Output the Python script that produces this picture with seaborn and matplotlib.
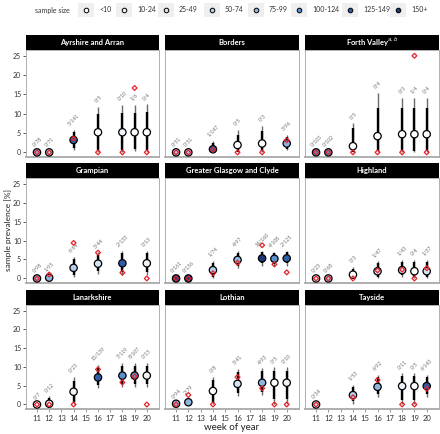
import numpy as np
import pandas as pd
import matplotlib
matplotlib.use("Agg")
import matplotlib.pyplot as plt
from matplotlib.patches import Rectangle
import seaborn as sns

# regions in facet order (3 x 3)
REGIONS = ["Ayrshire and Arran", "Borders", "Forth Valley",
           "Grampian", "Greater Glasgow and Clyde", "Highland",
           "Lanarkshire", "Lothian", "Tayside"]
STRIP_TITLES = ["Ayrshire and Arran", "Borders", r"Forth Valley$^{a,b}$",
                "Grampian", "Greater Glasgow and Clyde", "Highland",
                "Lanarkshire", "Lothian", "Tayside"]
N_WEEKS = [7, 6, 7, 6, 7, 7, 7, 7, 6]

week = [11, 12, 14, 16, 18, 19, 20,   # ayrshire
        11, 12, 14, 16, 18, 20,       # borders
        11, 12, 14, 16, 18, 19, 20,   # forth valley
        11, 12, 14, 16, 18, 20,       # grampian
        11, 12, 14, 16, 18, 19, 20,   # ggc
        11, 12, 14, 16, 18, 19, 20,   # highland
        11, 12, 14, 16, 18, 19, 20,   # lanarkshire
        11, 12, 14, 16, 18, 19, 20,   # lothian
        11, 14, 16, 18, 19, 20]       # tayside

positives = [0, 0, 5, 0, 0, 1, 0,
             0, 0, 1, 0, 0, 3,
             0, 0, 0, 0, 0, 1, 0,
             0, 1, 6, 3, 2, 0,
             0, 0, 1, 4, 14, 4, 2,
             0, 0, 0, 1, 1, 0, 1,
             0, 0, 0, 13, 7, 8, 0,
             0, 2, 0, 3, 4, 0, 0,
             0, 1, 6, 0, 0, 6]

sample_n = [78, 71, 141, 5, 10, 6, 4,
            51, 51, 147, 5, 3, 96,
            103, 102, 5, 4, 3, 4, 4,
            98, 95, 64, 44, 133, 13,
            161, 156, 74, 97, 160, 108, 125,
            23, 68, 3, 47, 43, 4, 37,
            7, 12, 23, 139, 119, 107, 15,
            94, 79, 8, 41, 93, 5, 10,
            34, 53, 92, 11, 5, 143]

# modelled prevalence (%) with outer and inner credible intervals
est_mean = [0.0, 0.0, 3.2, 5.2, 5.2, 5.2, 5.2,
            0.0, 0.0, 0.8, 1.9, 2.3, 2.3,
            0.0, 0.0, 1.6, 4.2, 4.7, 4.7, 4.7,
            0.0, 0.2, 2.8, 3.9, 4.0, 4.0,
            0.0, 0.0, 2.2, 4.9, 5.3, 5.2, 5.3,
            0.0, 0.0, 1.0, 1.9, 2.2, 1.9, 1.9,
            0.0, 0.2, 3.4, 7.2, 7.7, 7.7, 7.7,
            0.2, 0.6, 3.6, 5.5, 5.8, 5.8, 5.8,
            0.0, 2.5, 4.7, 4.9, 4.9, 4.9]
est_lo = [0.0, 0.0, 0.6, 0.1, 0.0, 0.4, 0.0,
          0.0, 0.0, 0.0, 0.0, 0.1, 0.6,
          0.0, 0.0, 0.0, 0.0, 0.0, 0.0, 0.0,
          0.0, 0.0, 0.4, 1.3, 0.9, 0.9,
          0.0, 0.0, 0.0, 2.8, 3.4, 3.4, 3.4,
          0.0, 0.0, 0.0, 0.0, 0.4, 0.0, 0.2,
          0.0, 0.0, 0.2, 4.5, 4.7, 4.7, 4.7,
          0.0, 0.0, 0.0, 2.3, 2.5, 0.0, 0.0,
          0.0, 0.2, 2.1, 0.0, 0.0, 2.1]
est_hi = [0.4, 0.4, 5.9, 11.8, 12.2, 12.2, 12.4,
          0.4, 0.4, 3.0, 5.9, 6.8, 4.5,
          0.4, 0.4, 7.5, 15.3, 14.0, 14.0, 14.0,
          0.4, 0.8, 5.6, 6.9, 7.3, 7.3,
          0.4, 0.4, 4.7, 7.3, 7.3, 7.1, 7.3,
          0.4, 0.4, 3.0, 4.5, 4.9, 4.9, 4.9,
          0.3, 2.2, 7.3, 10.5, 11.1, 11.1, 11.1,
          0.5, 1.5, 7.3, 9.4, 9.6, 9.9, 9.9,
          0.4, 5.2, 7.9, 8.3, 8.3, 7.9]
est_lo_in = [0.0, 0.0, 1.2, 0.6, 0.6, 0.8, 0.6,
             0.0, 0.0, 0.2, 0.2, 0.4, 1.0,
             0.0, 0.0, 0.1, 0.3, 0.3, 0.3, 0.3,
             0.0, 0.05, 1.0, 2.0, 1.8, 1.6,
             0.0, 0.0, 0.4, 3.4, 4.0, 3.9, 4.0,
             0.0, 0.0, 0.1, 0.5, 0.8, 0.4, 0.5,
             0.0, 0.0, 0.7, 5.2, 5.4, 5.4, 5.4,
             0.05, 0.1, 0.3, 3.0, 3.2, 1.5, 1.5,
             0.0, 0.8, 2.8, 1.2, 1.2, 2.8]
est_hi_in = [0.3, 0.3, 5.2, 10.0, 10.3, 10.3, 10.5,
             0.3, 0.3, 2.4, 4.6, 5.6, 4.0,
             0.3, 0.3, 6.2, 11.5, 11.5, 11.5, 11.5,
             0.3, 0.6, 5.0, 6.3, 6.6, 6.7,
             0.3, 0.3, 4.2, 6.8, 7.0, 6.8, 7.0,
             0.3, 0.3, 2.6, 4.0, 4.4, 4.4, 4.3,
             0.2, 1.6, 6.2, 9.7, 10.3, 10.3, 10.3,
             0.45, 1.3, 6.5, 8.6, 8.8, 9.0, 9.0,
             0.3, 4.6, 7.3, 7.5, 7.5, 7.3]

SIZE_EDGES = [0, 10, 25, 50, 75, 100, 125, 150, np.inf]
SIZE_LABELS = ["<10", "10-24", "25-49", "50-74", "75-99", "100-124", "125-149", "150+"]
SIZE_COLORS = ["#ffffff", "#eef3fa", "#d6e4f4", "#b3cdeb", "#8fb5e1",
               "#5b8fd0", "#2f5ea8", "#1b3779"]

df = pd.DataFrame({
    "region": np.repeat(REGIONS, N_WEEKS),
    "week": week, "pos": positives, "n": sample_n,
    "mean": est_mean, "lo": est_lo, "hi": est_hi,
    "lo_in": est_lo_in, "hi_in": est_hi_in,
})
df["raw"] = df["pos"] / df["n"] * 100
df["size_bin"] = pd.cut(df["n"], SIZE_EDGES, right=False, labels=SIZE_LABELS)
palette = dict(zip(SIZE_LABELS, SIZE_COLORS))

sns.set_theme(style="white")
plt.rcParams["font.family"] = ["Lato", "DejaVu Sans"]

W, H = 440, 434
fig = plt.figure(figsize=(W / 100, H / 100), dpi=100)

col_x = [(26, 159), (165, 299), (305, 439)]
row_y = [(50, 157), (178, 283), (305, 409)]
STRIP_H = 15


def px_rect(x0, x1, y0, y1):
    return [x0 / W, 1 - y1 / H, (x1 - x0) / W, (y1 - y0) / H]


for i, reg in enumerate(REGIONS):
    r, c = divmod(i, 3)
    (x0, x1), (y0, y1) = col_x[c], row_y[r]
    ax = fig.add_axes(px_rect(x0, x1, y0, y1))
    d = df[df["region"] == reg]

    ax.vlines(d["week"], d["lo"], d["hi"], color="#6a6a6a", lw=1.0, zorder=1)
    ax.vlines(d["week"], d["lo_in"], d["hi_in"], color="black", lw=1.7, zorder=2)
    sns.scatterplot(data=d, x="week", y="mean", hue="size_bin", palette=palette,
                    hue_order=SIZE_LABELS, s=28, edgecolor="black", linewidth=0.9,
                    legend=False, ax=ax, zorder=3)
    sns.scatterplot(data=d, x="week", y="raw", marker="D", s=6, color="#e8202a",
                    linewidth=0.9, legend=False, ax=ax, zorder=4)
    raw_pts = ax.collections[-1]
    raw_pts.set_facecolor("none")
    raw_pts.set_edgecolor("#e8202a")

    for _, row in d.iterrows():
        ax.text(row["week"], row["hi"] + 0.9, f"{row['pos']}/{row['n']}",
                rotation=45, ha="center", va="bottom", fontsize=3.7, color="#6f6f6f")

    ax.set_xlim(10.1, 21.0)
    ax.set_ylim(-1.2, 26.5)
    ax.set_xticks(range(11, 21))
    ax.set_yticks([0, 5, 10, 15, 20, 25])
    ax.set_xlabel("")
    ax.set_ylabel("")
    for side in ["left", "right", "top"]:
        ax.spines[side].set_color("#b0b0b0")
        ax.spines[side].set_linewidth(0.7)
    ax.spines["bottom"].set_color("#a8a8a8")
    ax.spines["bottom"].set_linewidth(1.3)

    ax.tick_params(axis="y", left=(c == 0), labelleft=(c == 0), length=2, width=0.6,
                   color="#444444", labelsize=5, labelcolor="#333333", pad=1.5)
    ax.tick_params(axis="x", bottom=(r == 2), labelbottom=(r == 2), length=2, width=0.6,
                   color="#888888", labelsize=5.5, labelcolor="#333333", pad=2)

    # black facet strip
    frac = STRIP_H / (y1 - y0)
    ax.add_patch(Rectangle((0, 1), 1, frac, transform=ax.transAxes,
                           facecolor="black", edgecolor="none", clip_on=False))
    ax.text(0.5, 1 + frac / 2, STRIP_TITLES[i], transform=ax.transAxes,
            ha="center", va="center", color="white", fontsize=5.5, fontweight="bold")

fig.text(8 / W, 1 - 230 / H, "sample prevalence [%]", rotation=90,
         ha="center", va="center", fontsize=6, color="#222222")
fig.text(232 / W, 1 - 428 / H, "week of year", ha="center", va="center",
         fontsize=7, color="#222222")

# legend strip along the top
lax = fig.add_axes([0, 0, 1, 1])
lax.set_xlim(0, W)
lax.set_ylim(H, 0)
lax.axis("off")
lax.text(35, 10, "sample size", ha="left", va="center", fontsize=5, color="#333333")
key_x = [86, 124, 166, 212, 256, 299, 350, 398]
for kx, lab, col in zip(key_x, SIZE_LABELS, SIZE_COLORS):
    lax.add_patch(Rectangle((kx - 8, 3), 16, 14, facecolor="#efefef", edgecolor="none"))
    lax.scatter([kx], [10], s=11, c=[col], edgecolors="black", linewidths=0.7)
    lax.text(kx + 13, 10, lab, ha="left", va="center", fontsize=5, color="#333333")

fig.savefig("out.png", dpi=100)
